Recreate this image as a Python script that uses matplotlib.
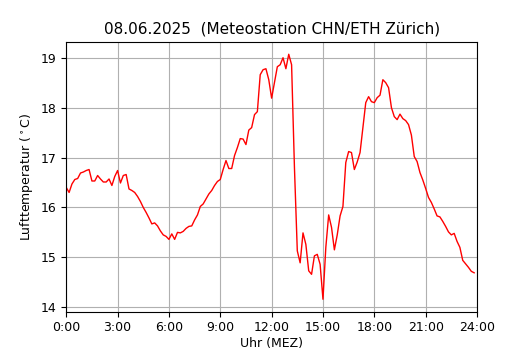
import matplotlib
matplotlib.use("Agg")
import matplotlib.pyplot as plt
import numpy as np

# 10-minute temperature readings, 0:00 .. 23:50
temps = [
    16.40, 16.30, 16.47, 16.56, 16.58, 16.69, 16.71, 16.74, 16.76, 16.53,
    16.53, 16.64, 16.57, 16.51, 16.51, 16.57, 16.44, 16.62, 16.74, 16.49,
    16.64, 16.66, 16.37, 16.34, 16.30, 16.22, 16.12, 16.00, 15.90, 15.79,
    15.67, 15.69, 15.63, 15.53, 15.45, 15.42, 15.36, 15.47, 15.36, 15.50,
    15.49, 15.52, 15.58, 15.62, 15.63, 15.75, 15.85, 16.02, 16.07, 16.17,
    16.27, 16.34, 16.44, 16.52, 16.56, 16.76, 16.94, 16.78, 16.78, 17.04,
    17.20, 17.38, 17.37, 17.26, 17.55, 17.60, 17.86, 17.92, 18.66, 18.76,
    18.78, 18.56, 18.19, 18.50, 18.82, 18.86, 19.00, 18.78, 19.07, 18.86,
    16.80, 15.13, 14.89, 15.49, 15.26, 14.73, 14.66, 15.03, 15.06, 14.86,
    14.16, 15.20, 15.85, 15.60, 15.15, 15.45, 15.83, 16.02, 16.90, 17.12,
    17.10, 16.76, 16.91, 17.10, 17.60, 18.10, 18.22, 18.12, 18.10, 18.20,
    18.25, 18.56, 18.50, 18.40, 18.00, 17.82, 17.76, 17.87, 17.78, 17.74,
    17.66, 17.45, 17.02, 16.92, 16.70, 16.55, 16.38, 16.20, 16.10, 15.97,
    15.83, 15.81, 15.72, 15.62, 15.51, 15.45, 15.48, 15.32, 15.20, 14.94,
    14.87, 14.80, 14.72, 14.69,
]
hours = np.arange(len(temps)) / 6.0

tick_hours = [0, 3, 6, 9, 12, 15, 18, 21, 24]
tick_labels = ["0:00", "3:00", "6:00", "9:00", "12:00", "15:00", "18:00", "21:00", "24:00"]

fig, ax = plt.subplots(figsize=(5.3, 3.5), dpi=100)
ax.plot(hours, temps, color="red", linewidth=1.0)
ax.set_xlim(0, 24)
ax.set_xticks(tick_hours)
ax.set_xticklabels(tick_labels)
ax.tick_params(labelsize=9)
ax.grid(True, color="#b0b0b0", linewidth=0.8)
ax.set_axisbelow(True)
ax.set_xlabel("Uhr (MEZ)", fontsize=9, labelpad=2)
ax.set_ylabel(r"Lufttemperatur ($^\circ$C)", fontsize=9)
ax.set_title("08.06.2025  (Meteostation CHN/ETH Zürich)", fontsize=11)
fig.savefig("out.png", dpi=100)
